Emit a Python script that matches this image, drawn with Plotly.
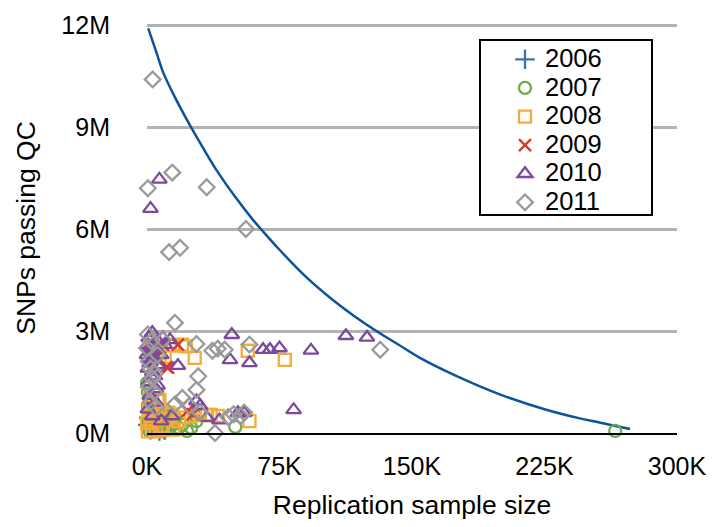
import plotly.graph_objects as go

# ---------------- data (x in thousands, y in millions) ----------------
years = ["2006", "2007", "2008", "2009", "2010", "2011"]

x2006 = [0.5, 2, 4, 7, 10, 1, 3]
y2006 = [0.24, 0.10, 0.30, 0.06, 0.09, 0.45, 0.15]

x2007 = [265, 50, 22.6, 28, 27, 20, 0.5, 0, 2, 4, 6, 8, 10, 12, 14, 16, 18, 1, 3, 5,
         7, 9, 11, 13, 15, 2, 6, 10, 3, 0.5, 25, 1.5, 4, 8, 12, 1, 5, 9, 3, 7]
y2007 = [0.06, 0.18, 0.06, 0.35, 0.53, 0.24, 0.80, 1.47, 0.50, 0.30, 0.60, 0.40, 0.50, 0.20,
         0.35, 0.45, 0.15, 0.10, 0.20, 0.25, 0.55, 0.65, 0.30, 0.15, 0.40, 0.70, 0.10, 0.25,
         1.00, 1.20, 0.15, 0.05, 0.75, 0.20, 0.55, 0.35, 0.45, 0.05, 0.60, 0.30]

x2008 = [3.4, 7, 10, 14.7, 19.8, 27, 57, 78, 22, 5,
         6, 58, 34, 36, 18, 15, 0.5, 2, 4, 8, 10, 12, 1, 3, 20, 25, 30, 40, 1.5, 7,
         0, 5, 9, 14, 2.5]
y2008 = [2.24, 2.24, 2.24, 2.57, 2.60, 2.21, 2.42, 2.15, 2.55, 2.30,
         0.94, 0.35, 0.53, 0.53, 0.35, 0.10, 0.05, 0.30, 0.50, 0.20, 0.40, 0.60, 0.70, 0.15,
         0.45, 0.50, 0.55, 0.50, 1.00, 0.97, 0.30, 0.05, 0.10, 0.55, 0.80]

x2009 = [0.5, 7, 11, 17.5, 23, 12, 2, 5, 26, 9]
y2009 = [2.57, 2.50, 1.94, 2.60, 0.65, 1.92, 2.40, 2.20, 0.55, 2.60]

x2010 = [7, 2, 112.6, 124.5, 92.8, 75, 69.6, 83, 48, 47, 58, 65.7, 13, 3, 17.5, 4.5, 1, 0.5,
         2, 4, 6, 8, 10, 3, 1, 5, 1.5, 5, 28, 41, 51.5, 55, 34, 0.5, 3, 8, 14, 6, 2, 9, 30,
         0, 1.5, 3.5, 5.5, 0.5, 2.5, 4, 1]
y2010 = [7.46, 6.60, 2.86, 2.81, 2.43, 2.50, 2.45, 0.68, 2.89, 2.15, 2.06, 2.45, 2.74, 2.95,
         1.98, 1.68, 2.80, 2.60, 2.40, 2.20, 2.00, 2.30, 2.60, 1.80, 1.50, 1.30, 1.10, 0.90,
         0.94, 0.38, 0.59, 0.59, 0.45, 0.70, 0.50, 0.35, 0.50, 1.40, 2.10, 2.80, 0.80,
         2.30, 2.05, 2.55, 2.75, 1.90, 1.65, 2.45, 2.20]

x2011 = [3.2, 0.5, 14.3, 33.8, 56, 12.5, 18.7, 15.8, 28, 37, 44, 40, 58, 29, 28, 20, 38.5,
         46, 132, 9, 0, 55, 49, 53, 1, 2, 3, 1, 4, 2, 6, 5, 16, 24, 30, 0.5, 2.5, 4.5]
y2011 = [10.40, 7.20, 7.66, 7.23, 6.00, 5.32, 5.45, 3.24, 2.62, 2.42, 2.45, 2.48, 2.60, 1.67,
         1.27, 1.03, 0.00, 0.47, 2.45, 2.74, 2.50, 0.60, 0.55, 0.50, 2.10, 1.90, 1.60, 1.35,
         1.20, 0.90, 2.30, 0.75, 0.85, 0.80, 0.60, 2.90, 2.70, 1.75]

curve_x = [0.7, 5, 9.2, 15, 20, 25.3, 31.9, 40, 50, 60, 65, 75, 90, 104.5, 117, 130.7, 142,
           154.5, 175, 200, 225, 245, 256, 273.4]
curve_y = [11.9, 11.25, 10.6, 9.96, 9.46, 8.96, 8.37, 7.68, 6.94, 6.27, 5.97, 5.39, 4.59,
           3.94, 3.45, 2.97, 2.61, 2.21, 1.68, 1.13, 0.70, 0.43, 0.31, 0.12]

x_tickvals = [0, 75, 150, 225, 300]
x_ticktext = ["0K", "75K", "150K", "225K", "300K"]
y_tickvals = [0, 3, 6, 9, 12]
y_ticktext = ["0M", "3M", "6M", "9M", "12M"]

# ---------------- styling ----------------
FONT = "Liberation Sans, Arial, Helvetica, sans-serif"
series = [
    (years[0], x2006, y2006, "cross-thin", "#3d6db3", 14),
    (years[1], x2007, y2007, "circle-open", "#6fab4c", 12),
    (years[2], x2008, y2008, "square-open", "#f3ab3a", 12),
    (years[3], x2009, y2009, "x-thin", "#d23a2e", 12),
    (years[4], x2010, y2010, "triangle-up-open", "#7b4a9c", 13),
    (years[5], x2011, y2011, "diamond-open", "#9a9a9a", 12),
]

OFF = 8  # page body margin
W, H = 708, 519
L, R, T, B = 139, 39, 15, 94
PW, PH = W - L - R, H - T - B
Y_TOP = 12.06  # a little headroom so the 12M grid line is drawn


def px(xs):  # screen pixel -> paper x
    return (xs - OFF - L) / PW


def py(ys):  # screen pixel -> paper y
    return (H - B - (ys - OFF)) / PH


fig = go.Figure()

fig.add_trace(go.Scatter(
    x=curve_x, y=curve_y, mode="lines",
    line=dict(color="#0b5499", width=2.5, shape="spline", smoothing=1.0),
    showlegend=False, hoverinfo="skip"))

for name, xs, ys, sym, col, size in series:
    fig.add_trace(go.Scatter(
        x=xs, y=ys, mode="markers", cliponaxis=False,
        name='<span style="font-size:25.5px">%s</span>' % name,
        marker=dict(symbol=sym, size=size, color=col, line=dict(color=col, width=2.3))))

shapes = [
    dict(type="rect", xref="paper", yref="paper", x0=px(480), x1=px(652), y0=py(215), y1=py(40),
         fillcolor="white", line=dict(color="black", width=2), layer="above"),
]

fig.update_layout(
    width=W, height=H,
    margin=dict(l=L, r=R, t=T, b=B, pad=0, autoexpand=False),
    paper_bgcolor="white", plot_bgcolor="white",
    font=dict(family=FONT, size=25, color="black"),
    shapes=shapes,
    showlegend=True,
    legend=dict(x=px(505), y=py(40), xanchor="left", yanchor="top",
                bgcolor="rgba(0,0,0,0)", borderwidth=0, itemwidth=30,
                font=dict(family=FONT, size=19.7, color="black"), tracegroupgap=0),
    xaxis=dict(range=[0, 300], tickvals=x_tickvals, ticktext=x_ticktext, automargin=False,
               showgrid=False, zeroline=False, showline=True, linecolor="black", linewidth=2,
               ticks="", ticklabelstandoff=10, fixedrange=True,
               title=dict(text="Replication sample size", font=dict(size=26.5), standoff=16)),
    yaxis=dict(range=[0, Y_TOP], tickvals=y_tickvals, ticktext=y_ticktext, automargin=False,
               showgrid=True, gridcolor="#b3b3b3", gridwidth=2.5, zeroline=False,
               showline=False, ticks="", ticklabelstandoff=36, fixedrange=True,
               title=dict(text="SNPs passing QC", font=dict(size=26.5), standoff=18)),
)

fig.write_html("out.html")
